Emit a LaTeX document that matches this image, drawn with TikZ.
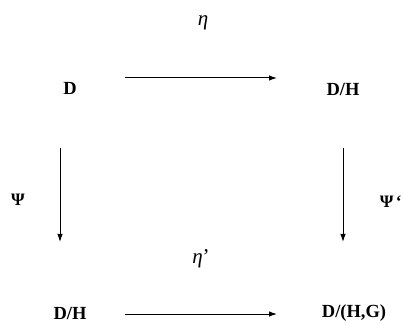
\documentclass[tikz,border=0pt]{standalone}
\usepackage{fontspec}
\setmainfont{Liberation Serif}
\usetikzlibrary{arrows.meta}
\begin{document}
\begin{tikzpicture}[x=1pt,y=1pt,
  obj/.style={font=\fontsize{18.5}{20}\selectfont\bfseries, inner sep=0pt},
  lbl/.style={font=\fontsize{21}{23}\selectfont, inner sep=0pt},
  psil/.style={font=\fontsize{17.5}{20}\selectfont\bfseries, inner sep=0pt},
  arr/.style={line width=1pt, -{Latex[length=8pt,width=5.5pt]}}]
\useasboundingbox (0,0) rectangle (403,323);
\fill[white] (0,0) rectangle (403,323);
\node[obj] (d) at (70,235) {D};
\node[obj] (dh1) at (343,233) {D/H};
\node[obj] (dh2) at (70,10) {D/H};
\node[obj] (dhg) at (354,10) {D/(H,G)};
\node[lbl] (eta) at (203,300) {\itshape η};
\node[lbl] (eta2) at (201,64) {\itshape η\upshape ’};
\node[psil] (psi) at (18,123) {Ψ};
\node[psil, anchor=east] (psi2) at (402,121) {Ψ\kern2.5pt‘};
\coordinate (a1) at (125,245);
\coordinate (a2) at (277,245);
\coordinate (b1) at (125,9);
\coordinate (b2) at (277,9);
\coordinate (l1) at (60,175);
\coordinate (l2) at (60,81);
\coordinate (r1) at (343,175);
\coordinate (r2) at (343,81);
\draw[arr] (a1) -- (a2);
\draw[arr] (b1) -- (b2);
\draw[arr] (l1) -- (l2);
\draw[arr] (r1) -- (r2);
\end{tikzpicture}
\end{document}
